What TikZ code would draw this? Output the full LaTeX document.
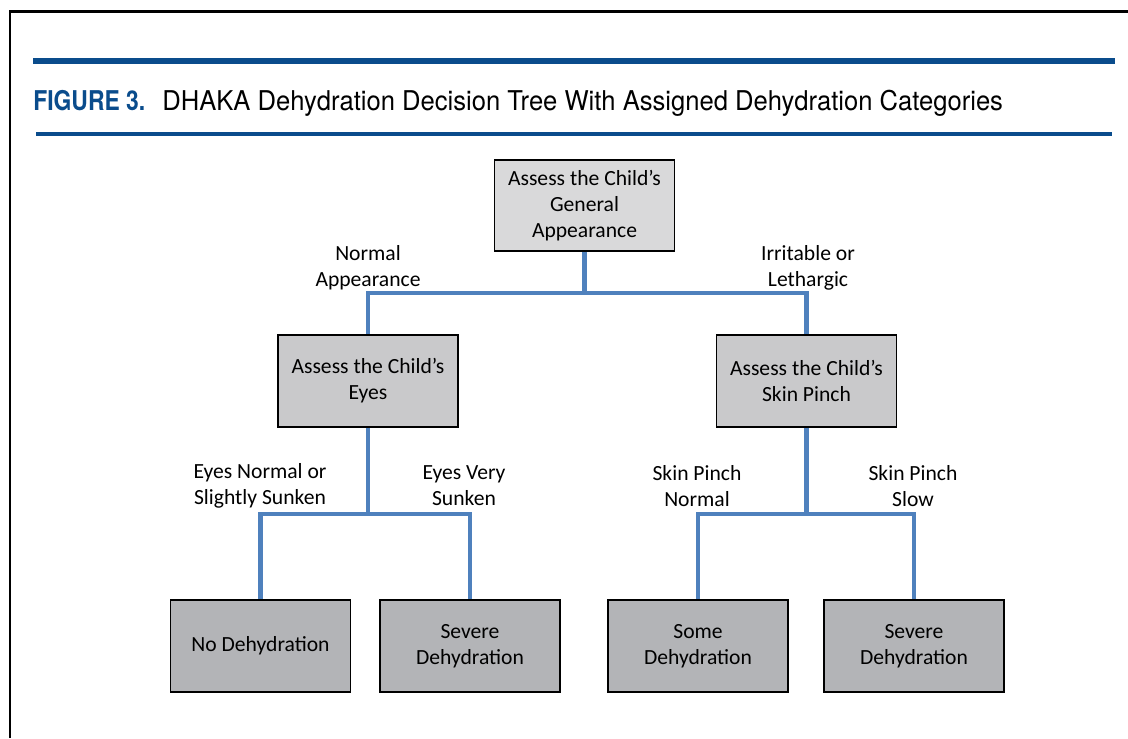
\documentclass[tikz,border=0pt]{standalone}
\usepackage{fontspec}
\setmainfont{Carlito}
\newfontfamily\headfont[FakeStretch=0.94]{TeX Gyre Heros}
\newfontfamily\headnofont[FakeStretch=0.84]{TeX Gyre Heros}
\usetikzlibrary{positioning}

\definecolor{ruleblue}{HTML}{0A4C8C}
\definecolor{linkblue}{HTML}{4F81BD}
\definecolor{fillA}{HTML}{D9D9DA}
\definecolor{fillB}{HTML}{C9C9CB}
\definecolor{fillC}{HTML}{B3B4B7}

\tikzset{
  decbox/.style={draw=black,line width=0.9pt,minimum width=3.6cm,minimum height=1.84cm,
    align=center,font=\fontsize{12.3}{14.8}\selectfont,inner sep=2pt},
  branch/.style={align=center,font=\fontsize{12.3}{14.8}\selectfont,inner sep=0pt},
  link/.style={linkblue,line width=2.3pt}
}

\begin{document}
\begin{tikzpicture}[x=0.02cm,y=-0.02cm]
  \useasboundingbox (0,0) rectangle (1128,738);
  % frame and header rules
  \draw[line width=1.4pt] (10,738) -- (10,11.5) -- (1128,11.5);
  \draw[ruleblue,line width=3.2pt] (33,61) -- (1115,61);
  \draw[ruleblue,line width=2pt] (36,134) -- (1112,134);
  \node[anchor=base west,inner sep=0pt,ruleblue,font=\headnofont\bfseries\fontsize{15.5}{18}\selectfont] (figno) at (33,110) {FIGURE 3.};
  \node[anchor=base west,inner sep=0pt,font=\headfont\fontsize{15.5}{18}\selectfont] (title) at (162,110) {DHAKA Dehydration Decision Tree With Assigned Dehydration Categories};

  \begin{scope}[every node/.style={decbox}]
    \node[fill=fillA,minimum height=1.82cm] (general) at (584.5,205.5) {Assess the Child’s\\General\\Appearance};
    \node[fill=fillB] (eyes) at (368,381) {Assess the Child’s\\Eyes};
    \node[fill=fillB] (skin) at (806.5,381) {Assess the Child’s\\Skin Pinch};
    \node[fill=fillC] (nodehyd) at (260.5,646) {No Dehydration};
    \node[fill=fillC] (severeA) at (470,646) {Severe\\Dehydration};
    \node[fill=fillC] (some) at (698,646) {Some\\Dehydration};
    \node[fill=fillC] (severeB) at (914,646) {Severe\\Dehydration};
  \end{scope}

  \coordinate (j1) at (584.5,293);
  \coordinate (j2) at (368,514);
  \coordinate (j3) at (806.5,514);
  \draw[link] (general.south) -- (j1) -| (eyes.north);
  \draw[link] (j1) -| (skin.north);
  \draw[link] (eyes.south) -- (j2) -| (nodehyd.north);
  \draw[link] (j2) -| (severeA.north);
  \draw[link] (skin.south) -- (j3) -| (some.north);
  \draw[link] (j3) -| (severeB.north);

  \node[branch] (normal) at (368,268) {Normal\\Appearance};
  \node[branch] (irritable) at (808,268) {Irritable or\\Lethargic};
  \node[branch] (eyesok) at (260,486) {Eyes Normal or\\Slightly Sunken};
  \node[branch] (eyessunk) at (464,486) {Eyes Very\\Sunken};
  \node[branch] (pinchok) at (697,486) {Skin Pinch\\Normal};
  \node[branch] (pinchslow) at (913,486) {Skin Pinch\\Slow};
\end{tikzpicture}
\end{document}
